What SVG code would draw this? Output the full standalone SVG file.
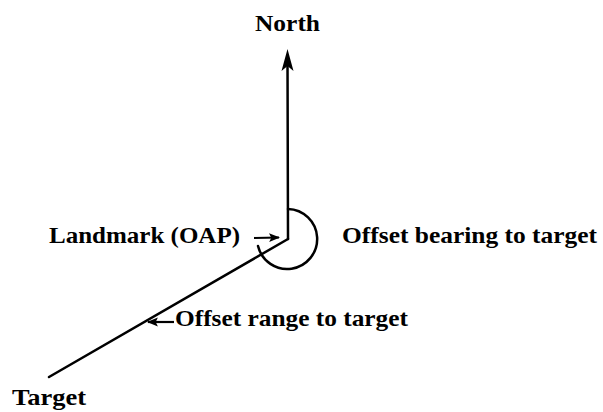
<svg xmlns="http://www.w3.org/2000/svg" width="603" height="412" viewBox="0 0 603 412">
<defs>
<style>
.lbl{font-family:"Liberation Serif","Times New Roman",serif;font-weight:bold;font-size:24px;fill:#000}
.ln{stroke:#000;stroke-width:2.5;fill:none;stroke-linecap:round}
.sm{stroke:#000;stroke-width:2.2;fill:none}
</style>
<marker id="ah" viewBox="0 0 10 10" refX="9" refY="5" markerWidth="11" markerHeight="11" markerUnits="userSpaceOnUse" orient="auto">
<path d="M0,1 L10,5 L0,9 L2,5 Z" fill="#000"/>
</marker>
</defs>
<rect width="603" height="412" fill="#fff"/>
<g id="connectors">
<line class="ln" x1="288" y1="239" x2="287.5" y2="62"/>
<path d="M287.5,49 L281.5,71 L287.5,66 L293.5,71 Z" fill="#000"/>
<line class="ln" x1="288" y1="239" x2="49" y2="377"/>
<path class="ln" d="M288,209 A30,30 0 1 1 258,246"/>
<line class="sm" x1="254" y1="238" x2="279" y2="237.5" marker-end="url(#ah)"/>
<line class="sm" x1="174" y1="322" x2="148" y2="322" marker-end="url(#ah)"/>
</g>
<g id="north"><text class="lbl" x="255" y="31" textLength="65" lengthAdjust="spacingAndGlyphs">North</text></g>
<g id="landmark"><text class="lbl" x="49" y="243" textLength="191" lengthAdjust="spacingAndGlyphs">Landmark (OAP)</text></g>
<g id="bearing"><text class="lbl" x="342" y="243" textLength="255" lengthAdjust="spacingAndGlyphs">Offset bearing to target</text></g>
<g id="range"><text class="lbl" x="175" y="326" textLength="233" lengthAdjust="spacingAndGlyphs">Offset range to target</text></g>
<g id="target"><text class="lbl" x="12" y="405" textLength="74" lengthAdjust="spacingAndGlyphs">Target</text></g>
</svg>
